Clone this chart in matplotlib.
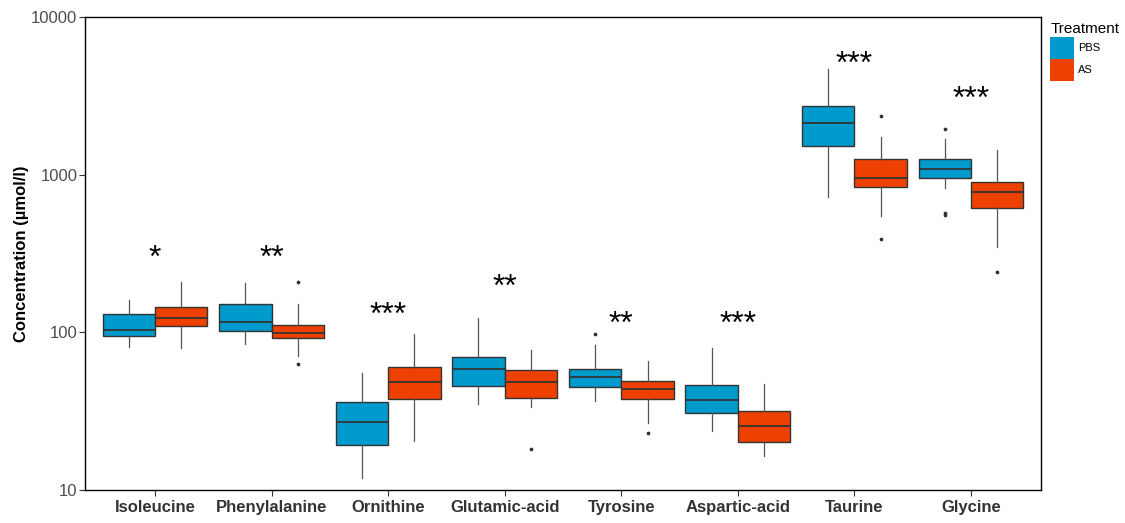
import matplotlib
matplotlib.use("Agg")
import matplotlib.pyplot as plt
from matplotlib.patches import Patch
from matplotlib.ticker import FixedLocator, NullLocator

plt.rcParams["font.family"] = ["Liberation Sans", "DejaVu Sans"]

amino_acids = ["Isoleucine", "Phenylalanine", "Ornithine", "Glutamic-acid",
               "Tyrosine", "Aspartic-acid", "Taurine", "Glycine"]
groups = ["PBS", "AS"]
significance = ["*", "**", "***", "**", "**", "***", "***", "***"]
star_level = [294, 294, 128, 191, 111, 111, 4940, 2965]

# PBS box statistics (umol/l)
pbs_lo = [80.5, 84.8, 12.0, 35.0, 36.6, 23.7, 719, 827]
pbs_q1 = [94.4, 101.6, 19.2, 45.7, 45.3, 30.7, 1514, 949]
pbs_med = [103.5, 116.4, 27.0, 58.9, 52.4, 37.1, 2138, 1091]
pbs_q3 = [130, 151, 36.2, 70.2, 58.4, 46.6, 2740, 1259]
pbs_hi = [160, 206.5, 55.0, 122.8, 83.2, 79.3, 4660, 1683]
pbs_out = [[], [], [], [], [97.7], [], [], [1940, 574, 555]]

# AS box statistics (umol/l)
as_lo = [80.0, 71.0, 20.5, 33.6, 26.5, 16.5, 547, 349]
as_q1 = [109, 91.8, 37.8, 38.2, 37.8, 20.3, 832, 612]
as_med = [124, 99.0, 48.7, 48.7, 43.5, 25.5, 949, 773]
as_q3 = [145.5, 111.4, 60.6, 58.0, 49.2, 31.6, 1259, 895]
as_hi = [210, 151, 97.7, 77.6, 66.2, 46.9, 1734, 1434]
as_out = [[], [208, 63], [], [18.2], [22.9], [], [2365, 391], [241.6]]

colors = {"PBS": "#009ACD", "AS": "#EE4000"}


def make_stats(lo, q1, med, q3, hi, out):
    return [dict(whislo=a, q1=b, med=c, q3=d, whishi=e, fliers=f)
            for a, b, c, d, e, f in zip(lo, q1, med, q3, hi, out)]


fig = plt.figure(figsize=(11.25, 5.23), dpi=100)
ax = fig.add_axes([0.0756, 0.0631, 0.8497, 0.9044])

series = {
    "PBS": make_stats(pbs_lo, pbs_q1, pbs_med, pbs_q3, pbs_hi, pbs_out),
    "AS": make_stats(as_lo, as_q1, as_med, as_q3, as_hi, as_out),
}
offsets = {"PBS": -0.225, "AS": 0.225}

for g in groups:
    pos = [i + offsets[g] for i in range(len(amino_acids))]
    ax.bxp(series[g], positions=pos, widths=0.45, patch_artist=True,
           showcaps=False,
           boxprops=dict(facecolor=colors[g], edgecolor="#333333", linewidth=1.0),
           medianprops=dict(color="#333333", linewidth=1.3),
           whiskerprops=dict(color="#555555", linewidth=0.9),
           flierprops=dict(marker="o", markersize=1.7, markerfacecolor="#333333",
                           markeredgecolor="#333333", linestyle="none"))

for i, (s, y) in enumerate(zip(significance, star_level)):
    ax.text(i, y, s, ha="center", va="center", fontsize=23, color="black")

ax.set_yscale("log")
ax.set_ylim(10, 10000)
ax.yaxis.set_major_locator(FixedLocator([10, 100, 1000, 10000]))
ax.yaxis.set_minor_locator(NullLocator())
ax.set_yticklabels(["10", "100", "1000", "10000"])
ax.set_xlim(-0.6, len(amino_acids) - 0.4)
ax.set_xticks(range(len(amino_acids)))
ax.set_xticklabels(amino_acids, fontsize=12, fontweight="bold", color="#333333")
ax.tick_params(axis="y", labelsize=12, labelcolor="#4D4D4D", length=4, color="#333333", pad=1.5)
ax.tick_params(axis="x", length=4, color="#333333", pad=3)
ax.set_ylabel("Concentration (µmol/l)", fontsize=12, fontweight="bold")
ax.yaxis.set_label_coords(-0.059, 0.5)
for sp in ax.spines.values():
    sp.set_color("black")
    sp.set_linewidth(1.0)

handles = [Patch(facecolor=colors[g], edgecolor="none", label=g) for g in groups]
leg = fig.legend(handles=handles, title="Treatment", loc="upper left",
                 bbox_to_anchor=(1046 / 1125, 1 - 18 / 523), frameon=False,
                 fontsize=8, title_fontsize=11, handlelength=2.1, handleheight=2.6,
                 handletextpad=0.4, labelspacing=0.05, borderaxespad=0)
leg._legend_box.align = "left"

fig.savefig("out.png", dpi=100)
